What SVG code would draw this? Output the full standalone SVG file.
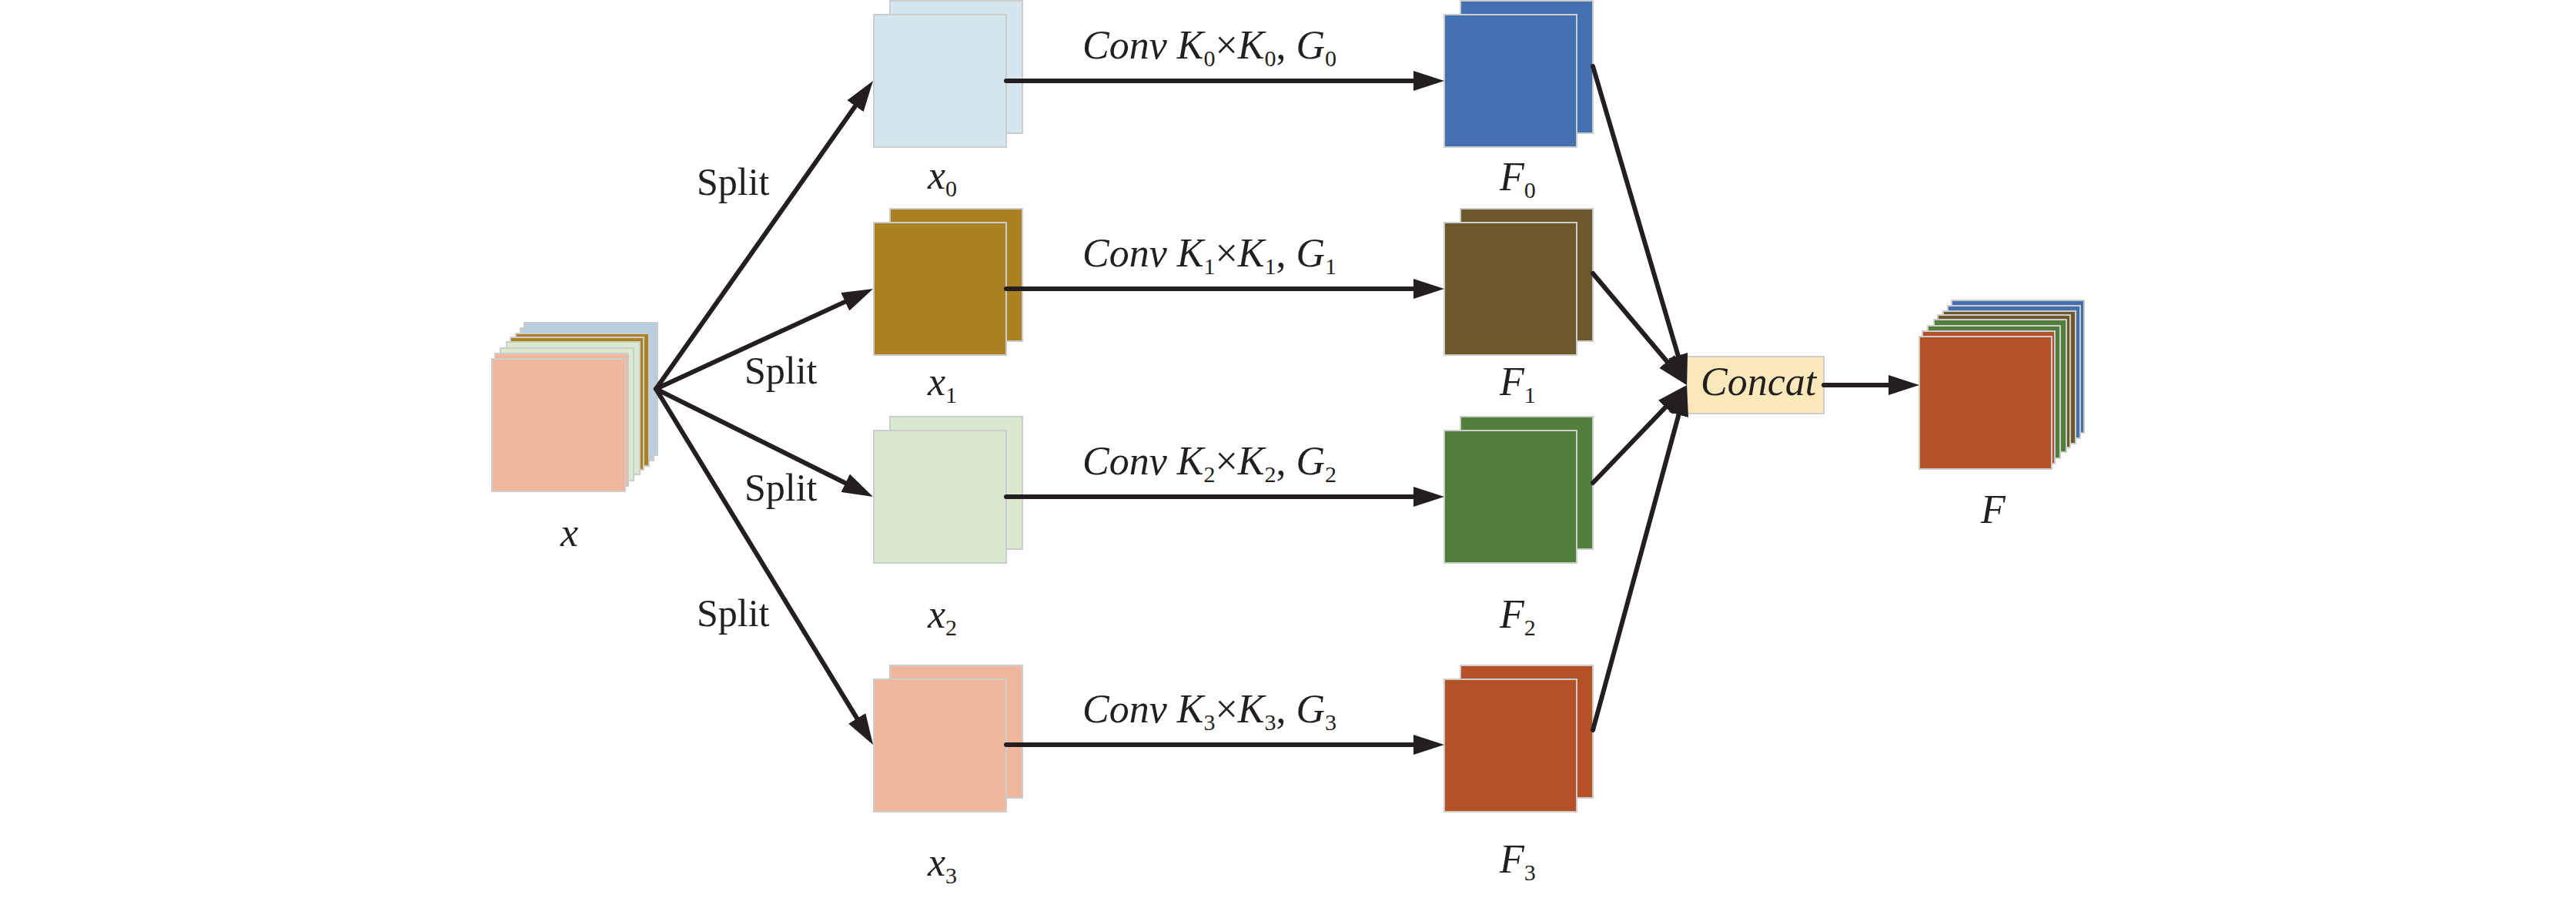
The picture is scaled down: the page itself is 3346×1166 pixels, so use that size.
<svg xmlns="http://www.w3.org/2000/svg" width="3346" height="1166" viewBox="0 0 3346 1166">
<defs>
<style>
.sq{stroke:#CCCCCC;stroke-width:2}
.conn{stroke:#231F20;stroke-width:6;fill:none;stroke-linecap:round;marker-end:url(#ah)}
.it{font-family:"Liberation Serif","Times New Roman",serif;font-style:italic;font-size:52px;fill:#231F20}
.sub{font-style:normal;font-size:30px}
.up{font-style:normal}
.rm{font-family:"Liberation Serif","Times New Roman",serif;font-size:50px;fill:#231F20}
.lb{fill:#D6E6F1}.lbd{fill:#B4CFE3}.gd{fill:#AB8223}.lg{fill:#D9EACF}.pe{fill:#F0B79C}
.bl{fill:#4371B0}.br{fill:#6C582A}.gr{fill:#4F7F3A}.ru{fill:#B55127}
</style>
<marker id="ah" markerUnits="userSpaceOnUse" markerWidth="40" markerHeight="26" refX="10" refY="13" orient="auto" viewBox="0 0 40 26">
<path d="M0,0 L40,13 L0,26 z" fill="#231F20"/>
</marker>
</defs>
<rect width="3346" height="1166" fill="#FFFFFF"/>

<g id="node-x">
<rect class="sq lbd" x="681" y="419" width="173" height="172"/>
<rect class="sq lbd" x="676" y="426" width="173" height="172"/>
<rect class="sq gd" x="670" y="433" width="173" height="172"/>
<rect class="sq gd" x="663" y="438" width="173" height="172"/>
<rect class="sq lg" x="658" y="444" width="173" height="172"/>
<rect class="sq lg" x="650" y="452" width="173" height="172"/>
<rect class="sq pe" x="643" y="459" width="173" height="172"/>
<rect class="sq pe" x="639" y="466" width="173" height="172"/>
<text class="it" x="728" y="709">x</text>
</g>

<g id="node-x0">
<rect class="sq lb" x="1156" y="1" width="172" height="172"/>
<rect class="sq lb" x="1135" y="19" width="172" height="172"/>
<text class="it" x="1205" y="245">x<tspan class="sub" dy="10">0</tspan></text>
</g>
<g id="node-x1">
<rect class="sq gd" x="1156" y="271" width="172" height="172"/>
<rect class="sq gd" x="1135" y="289" width="172" height="172"/>
<text class="it" x="1205" y="513">x<tspan class="sub" dy="10">1</tspan></text>
</g>
<g id="node-x2">
<rect class="sq lg" x="1156" y="541" width="172" height="172"/>
<rect class="sq lg" x="1135" y="559" width="172" height="172"/>
<text class="it" x="1205" y="815">x<tspan class="sub" dy="10">2</tspan></text>
</g>
<g id="node-x3">
<rect class="sq pe" x="1156" y="864" width="172" height="172"/>
<rect class="sq pe" x="1135" y="882" width="172" height="172"/>
<text class="it" x="1205" y="1137">x<tspan class="sub" dy="10">3</tspan></text>
</g>

<g id="node-F0">
<rect class="sq bl" x="1897" y="1" width="172" height="172"/>
<rect class="sq bl" x="1876" y="19" width="172" height="172"/>
<text class="it" x="1948" y="247">F<tspan class="sub" dy="10">0</tspan></text>
</g>
<g id="node-F1">
<rect class="sq br" x="1897" y="271" width="172" height="172"/>
<rect class="sq br" x="1876" y="289" width="172" height="172"/>
<text class="it" x="1948" y="513">F<tspan class="sub" dy="10">1</tspan></text>
</g>
<g id="node-F2">
<rect class="sq gr" x="1897" y="541" width="172" height="172"/>
<rect class="sq gr" x="1876" y="559" width="172" height="172"/>
<text class="it" x="1948" y="815">F<tspan class="sub" dy="10">2</tspan></text>
</g>
<g id="node-F3">
<rect class="sq ru" x="1897" y="864" width="172" height="172"/>
<rect class="sq ru" x="1876" y="882" width="172" height="172"/>
<text class="it" x="1948" y="1133">F<tspan class="sub" dy="10">3</tspan></text>
</g>

<g id="node-concat">
<rect x="2191" y="463" width="178" height="74" fill="#F8E8BA" stroke="#CCCCCC" stroke-width="2"/>
<text class="it" x="2209" y="513">Concat</text>
</g>

<g id="node-F">
<rect class="sq bl" x="2535" y="390" width="172" height="172"/>
<rect class="sq bl" x="2530" y="397" width="172" height="172"/>
<rect class="sq br" x="2524" y="404" width="172" height="172"/>
<rect class="sq br" x="2517" y="409" width="172" height="172"/>
<rect class="sq gr" x="2512" y="415" width="172" height="172"/>
<rect class="sq gr" x="2504" y="423" width="172" height="172"/>
<rect class="sq ru" x="2497" y="430" width="172" height="172"/>
<rect class="sq ru" x="2493" y="437" width="172" height="172"/>
<text class="it" x="2573" y="679">F</text>
</g>

<g id="connectors">
<line class="conn" x1="852" y1="505" x2="1116.7" y2="129.5"/>
<line class="conn" x1="852" y1="505" x2="1106.8" y2="387.6"/>
<line class="conn" x1="852" y1="505" x2="1107.1" y2="631.7"/>
<line class="conn" x1="852" y1="505" x2="1118.4" y2="941.4"/>
<line class="conn" x1="1307" y1="105" x2="1846" y2="105"/>
<line class="conn" x1="1307" y1="375" x2="1846" y2="375"/>
<line class="conn" x1="1307" y1="645" x2="1846" y2="645"/>
<line class="conn" x1="1307" y1="967" x2="1846" y2="967"/>
<line class="conn" x1="2069" y1="86" x2="2182.5" y2="471.2"/>
<line class="conn" x1="2069" y1="355" x2="2171.7" y2="477"/>
<line class="conn" x1="2069" y1="627" x2="2170.2" y2="521.6"/>
<line class="conn" x1="2069" y1="948" x2="2183.1" y2="528.9"/>
<line class="conn" x1="2369" y1="500" x2="2463" y2="500"/>
<text class="rm" x="905" y="253">Split</text>
<text class="rm" x="967" y="498">Split</text>
<text class="rm" x="967" y="650">Split</text>
<text class="rm" x="905" y="813">Split</text>
<text class="it" x="1406" y="76">Conv K<tspan class="sub" dy="10">0</tspan><tspan class="up" dy="-10">×</tspan>K<tspan class="sub" dy="10">0</tspan><tspan class="up" dy="-10">, </tspan>G<tspan class="sub" dy="10">0</tspan></text>
<text class="it" x="1406" y="346">Conv K<tspan class="sub" dy="10">1</tspan><tspan class="up" dy="-10">×</tspan>K<tspan class="sub" dy="10">1</tspan><tspan class="up" dy="-10">, </tspan>G<tspan class="sub" dy="10">1</tspan></text>
<text class="it" x="1406" y="616">Conv K<tspan class="sub" dy="10">2</tspan><tspan class="up" dy="-10">×</tspan>K<tspan class="sub" dy="10">2</tspan><tspan class="up" dy="-10">, </tspan>G<tspan class="sub" dy="10">2</tspan></text>
<text class="it" x="1406" y="938">Conv K<tspan class="sub" dy="10">3</tspan><tspan class="up" dy="-10">×</tspan>K<tspan class="sub" dy="10">3</tspan><tspan class="up" dy="-10">, </tspan>G<tspan class="sub" dy="10">3</tspan></text>
</g>
</svg>
